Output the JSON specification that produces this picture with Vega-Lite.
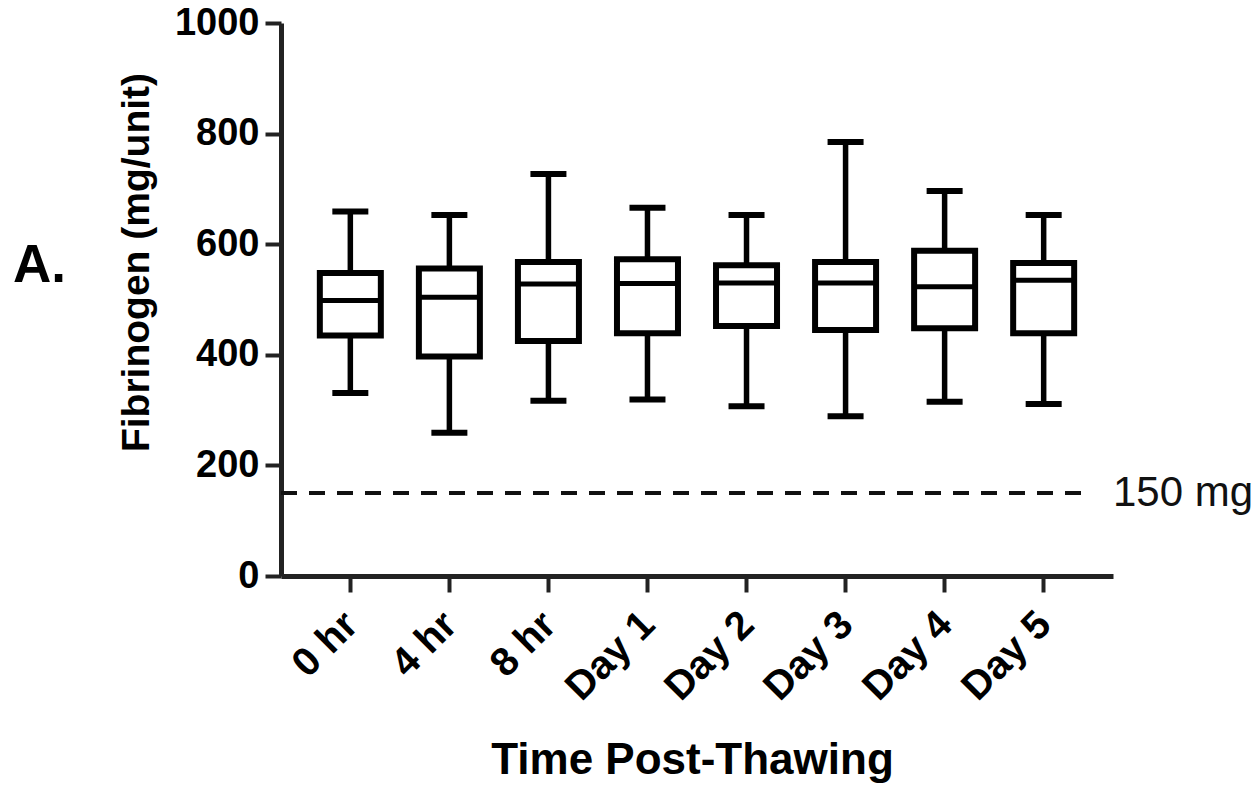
{
  "$schema": "https://vega.github.io/schema/vega-lite/v6.json",
  "width": 832,
  "height": 553,
  "autosize": {"type": "none"},
  "padding": {"left": 281, "top": 23, "right": 145, "bottom": 210},
  "background": "white",
  "config": {
    "view": {"stroke": null},
    "font": "Liberation Sans",
    "axis": {"grid": false}
  },
  "title": {
    "text": "A.",
    "orient": "left",
    "angle": 0,
    "align": "right",
    "baseline": "middle",
    "anchor": "middle",
    "offset": -2,
    "dy": -34,
    "fontSize": 53,
    "fontWeight": "bold",
    "font": "Liberation Sans",
    "color": "black"
  },
  "datasets": {
    "boxes": [
      {"time": "0 hr", "min": 331, "q1": 435, "median": 498, "q3": 548, "max": 659},
      {"time": "4 hr", "min": 259, "q1": 397, "median": 504, "q3": 556, "max": 653},
      {"time": "8 hr", "min": 317, "q1": 425, "median": 528, "q3": 568, "max": 727},
      {"time": "Day 1", "min": 319, "q1": 439, "median": 529, "q3": 573, "max": 666},
      {"time": "Day 2", "min": 307, "q1": 452, "median": 530, "q3": 562, "max": 653},
      {"time": "Day 3", "min": 289, "q1": 445, "median": 530, "q3": 568, "max": 785},
      {"time": "Day 4", "min": 315, "q1": 448, "median": 523, "q3": 588, "max": 696},
      {"time": "Day 5", "min": 311, "q1": 439, "median": 535, "q3": 566, "max": 653}
    ],
    "threshold": [{"value": 150, "label": "150 mg"}]
  },
  "encoding": {
    "x": {
      "field": "time",
      "type": "nominal",
      "sort": ["0 hr", "4 hr", "8 hr", "Day 1", "Day 2", "Day 3", "Day 4", "Day 5"],
      "scale": {"paddingInner": 0, "paddingOuter": 0.2},
      "axis": {
        "title": "Time Post-Thawing",
        "titleFontSize": 44,
        "titleFontWeight": "bold",
        "titleColor": "black",
        "titleBaseline": "alphabetic",
        "titleAlign": "center",
        "titleX": 411,
        "titleY": 197,
        "labelAngle": -45,
        "labelAlign": "right",
        "labelBaseline": "top",
        "labelOffset": -13,
        "labelPadding": 12,
        "labelFontSize": 40,
        "labelFontWeight": "bold",
        "labelColor": "black",
        "domainColor": "#222222",
        "domainWidth": 5,
        "tickColor": "#222222",
        "tickWidth": 4,
        "tickSize": 16
      }
    }
  },
  "layer": [
    {
      "data": {"name": "boxes"},
      "mark": {"type": "rule", "color": "black", "strokeWidth": 5.5},
      "encoding": {
        "y": {
          "field": "min",
          "type": "quantitative",
          "scale": {"domain": [0, 1000], "nice": false},
          "axis": {
            "values": [0, 200, 400, 600, 800, 1000],
            "format": "d",
            "title": "Fibrinogen (mg/unit)",
            "titleFontSize": 39,
            "titleFontWeight": "bold",
            "titleColor": "black",
            "titleAngle": 270,
            "titleBaseline": "alphabetic",
            "titleAlign": "center",
            "titleX": -133,
            "titleY": 239,
            "labelFontSize": 38,
            "labelFontWeight": "bold",
            "labelColor": "black",
            "labelPadding": 6,
            "domainColor": "#222222",
            "domainWidth": 5,
            "tickColor": "#222222",
            "tickWidth": 4,
            "tickSize": 16
          }
        },
        "y2": {"field": "max"}
      }
    },
    {
      "data": {"name": "boxes"},
      "mark": {"type": "bar", "fill": "white", "stroke": "black", "strokeWidth": 6, "size": 61},
      "encoding": {
        "y": {"field": "q1", "type": "quantitative"},
        "y2": {"field": "q3"}
      }
    },
    {
      "data": {"name": "boxes"},
      "mark": {"type": "tick", "color": "black", "size": 61, "thickness": 5, "opacity": 1},
      "encoding": {"y": {"field": "median", "type": "quantitative"}}
    },
    {
      "data": {"name": "boxes"},
      "mark": {"type": "tick", "color": "black", "size": 36, "thickness": 6, "opacity": 1},
      "encoding": {"y": {"field": "min", "type": "quantitative"}}
    },
    {
      "data": {"name": "boxes"},
      "mark": {"type": "tick", "color": "black", "size": 36, "thickness": 6, "opacity": 1},
      "encoding": {"y": {"field": "max", "type": "quantitative"}}
    },
    {
      "data": {"name": "threshold"},
      "mark": {"type": "rule", "color": "#111111", "strokeWidth": 4, "strokeDash": [16, 12], "x2Offset": -20},
      "encoding": {
        "y": {"field": "value", "type": "quantitative"},
        "x": {"value": 0},
        "x2": {"value": "width"}
      }
    },
    {
      "data": {"name": "threshold"},
      "mark": {"type": "text", "align": "left", "baseline": "middle", "dx": 0, "fontSize": 42, "font": "Liberation Sans", "color": "#111111"},
      "encoding": {
        "x": {"value": "width"},
        "y": {"field": "value", "type": "quantitative"},
        "text": {"field": "label"}
      }
    }
  ]
}
